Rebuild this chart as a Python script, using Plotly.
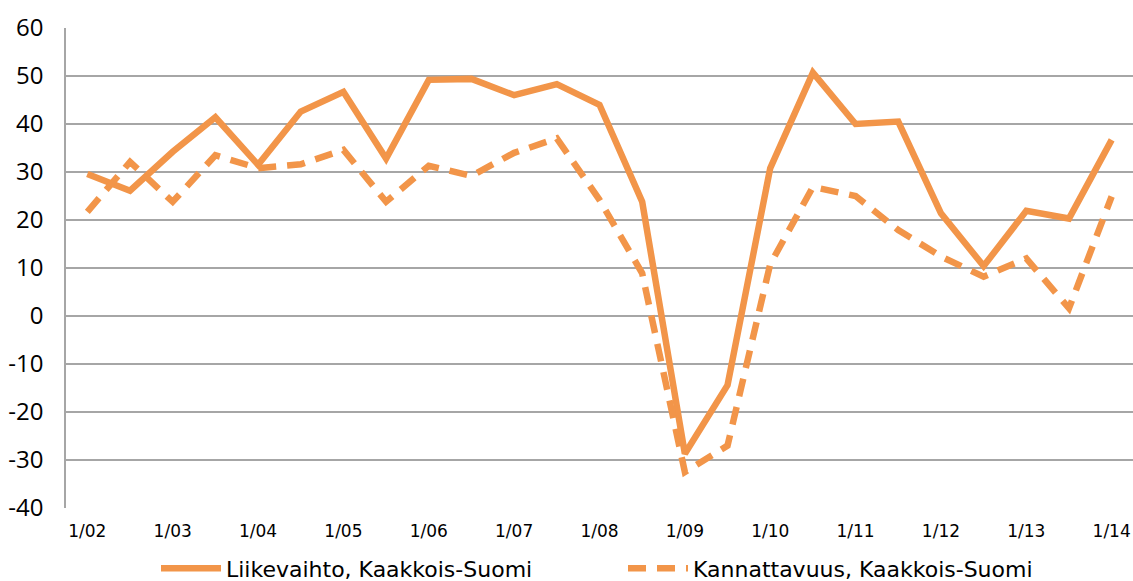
import plotly.graph_objects as go

periods = ["1/02", "7/02", "1/03", "7/03", "1/04", "7/04", "1/05", "7/05", "1/06", "7/06",
           "1/07", "7/07", "1/08", "7/08", "1/09", "7/09", "1/10", "7/10", "1/11", "7/11",
           "1/12", "7/12", "1/13", "7/13", "1/14"]
liikevaihto = [29.6, 26.1, 34.2, 41.4, 31.5, 42.6, 46.7, 32.8, 49.2, 49.4,
               46.0, 48.3, 44.0, 23.8, -28.7, -14.4, 30.8, 50.7, 40.0, 40.5,
               21.4, 10.4, 21.9, 20.3, 36.7]
kannattavuus = [21.7, 32.1, 23.8, 33.5, 30.8, 31.6, 34.6, 23.8, 31.3, 29.2,
                34.0, 37.0, 24.2, 8.9, -32.5, -27.0, 10.8, 26.9, 25.0, 17.9,
                12.4, 8.2, 12.0, 1.6, 24.9]
x_tick_labels = ["1/02", "1/03", "1/04", "1/05", "1/06", "1/07", "1/08", "1/09",
                 "1/10", "1/11", "1/12", "1/13", "1/14"]
y_tick_values = [-40, -30, -20, -10, 0, 10, 20, 30, 40, 50, 60]
y_tick_labels = ["-40", "-30", "-20", "-10", "0", "10", "20", "30", "40", "50", "60"]
name1 = "Liikevaihto, Kaakkois-Suomi"
name2 = "Kannattavuus, Kaakkois-Suomi"

color = "#F29549"
sans = "DejaVu Sans, Verdana, sans-serif"
num_font = "Open Sans, Lato, sans-serif"

fig = go.Figure()
fig.add_trace(go.Scatter(x=periods, y=liikevaihto, mode="lines", name=name1,
                         line=dict(color=color, width=6.5)))
fig.add_trace(go.Scatter(x=periods, y=kannattavuus, mode="lines", name=name2,
                         line=dict(color=color, width=6.5, dash="18px,11px")))

fig.update_layout(
    width=1133, height=581,
    margin=dict(l=66, r=0, t=28, b=73, autoexpand=False),
    plot_bgcolor="white", paper_bgcolor="white",
    font=dict(family=sans, color="#000000"),
    showlegend=True,
    legend=dict(orientation="h", x=(156 - 66) / 1067, xanchor="left",
                y=-0.126, yanchor="middle",
                font=dict(size=22, family=sans), itemwidth=60,
                entrywidthmode="pixels", entrywidth=392, tracegroupgap=0),
)
fig.update_xaxes(
    type="category", categoryorder="array", categoryarray=periods,
    range=[-0.5, len(periods) - 0.5],
    tickmode="array", tickvals=x_tick_labels, ticktext=x_tick_labels,
    tickfont=dict(size=17, family=sans),
    showgrid=False, showline=False, zeroline=False, ticks="",
    ticklabelstandoff=11, automargin=False,
)
fig.update_yaxes(
    range=[-40, 60], tickmode="array", tickvals=y_tick_values, ticktext=y_tick_labels,
    tickfont=dict(size=24, family=num_font),
    showgrid=True, gridcolor="#A6A6A6", gridwidth=1.5,
    showline=True, linecolor="#A6A6A6", linewidth=1.5,
    zeroline=False, ticks="", ticklabelstandoff=16, automargin=False,
)

fig.write_html("out.html", config={"displayModeBar": False},
               post_script="document.body.style.margin='0';document.body.style.padding='0';document.body.style.overflow='hidden';")
